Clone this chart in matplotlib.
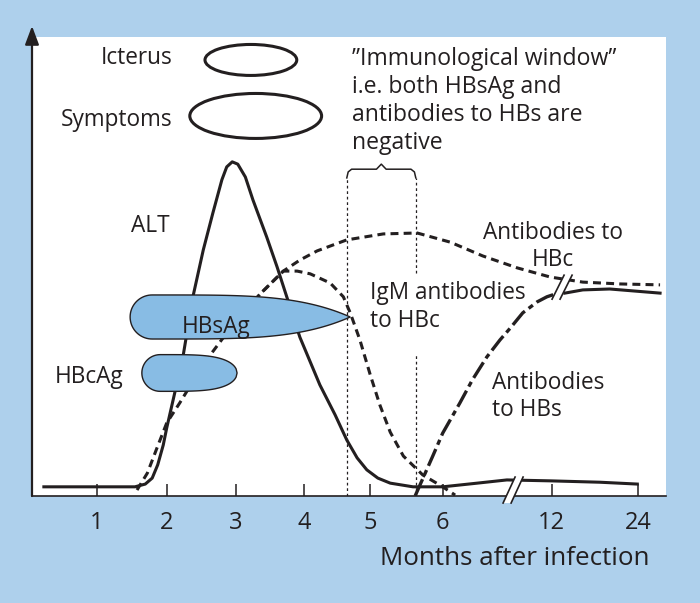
import matplotlib
matplotlib.use("Agg")
import matplotlib.pyplot as plt
import numpy as np
from matplotlib.patches import Ellipse, Polygon

plt.rcParams['font.family'] = ['Open Sans', 'DejaVu Sans']

# colours
BG = '#aed0ec'
FILL = '#88bce4'
INK = '#231f20'

# x is the position on the broken month axis, y is an arbitrary level 0..100
tick_pos = [1, 2.01, 3.01, 4.0, 4.96, 6.01, 7.59, 8.84]
tick_labels = ['1', '2', '3', '4', '5', '6', '12', '24']

# ALT (solid)
alt_x = [0.23, 1.55, 1.70, 1.80, 1.88, 1.96, 2.01, 2.13, 2.25, 2.39, 2.54, 2.68,
         2.81, 2.88, 2.96, 3.04, 3.15, 3.26, 3.46, 3.61, 3.75, 3.94, 4.23, 4.45,
         4.62, 4.77, 4.91, 5.07, 5.25, 5.58, 6.01, 6.51, 6.94, 7.57, 8.29, 8.83]
alt_y = [2.0, 2.0, 2.6, 3.9, 6.8, 11.1, 14.8, 22.7, 30.7, 43.4, 53.6, 61.7,
         68.9, 71.7, 72.8, 72.3, 69.5, 64.5, 56.4, 49.9, 43.4, 34.6, 24.2, 17.7,
         12.2, 8.3, 5.7, 3.9, 2.8, 2.0, 2.0, 2.8, 3.5, 3.3, 3.0, 2.6]

# common rise of the antibodies to HBc
rise_x = [1.58, 1.73, 1.87, 2.01, 2.20, 2.42, 2.64, 2.86, 3.15, 3.39, 3.70]
rise_y = [1.3, 5.0, 10.5, 15.9, 20.3, 25.7, 30.7, 35.1, 40.5, 44.4, 49.0]

# total antibodies to HBc (dashed)
hbc_x = [3.94, 4.19, 4.62, 5.15, 5.64, 6.12, 6.59, 7.09, 7.57, 8.04, 8.58, 9.16]
hbc_y = [51.4, 53.4, 55.8, 57.1, 57.3, 55.3, 52.3, 49.7, 47.7, 46.6, 46.2, 46.0]

# IgM antibodies to HBc (dashed)
igm_x = [3.90, 4.09, 4.38, 4.57, 4.67, 4.81, 4.96, 5.10, 5.25, 5.44, 5.72, 6.01, 6.19]
igm_y = [49.0, 48.4, 46.4, 43.4, 39.9, 34.0, 26.4, 19.8, 13.9, 8.7, 4.6, 2.0, 0.2]

# antibodies to HBs (dash-dot before the break, solid after)
hbs_x = [5.61, 5.86, 6.01, 6.26, 6.44, 6.65, 6.84, 6.99, 7.17, 7.38, 7.52, 7.64]
hbs_y = [0.0, 8.5, 13.7, 20.3, 25.3, 30.3, 34.0, 36.6, 39.9, 42.3, 43.4, 44.0]
hbs_late_x = [7.78, 8.04, 8.43, 9.16]
hbs_late_y = [44.2, 44.9, 45.1, 44.2]

# HBsAg / HBcAg bars: start, end, centre level, half height
hbsag = (1.48, 4.67, 39.0, 4.8)
hbcag = (1.65, 3.03, 26.8, 4.0)

# Icterus / Symptoms ellipses: centre x, centre y, width, height
icterus = (3.23, 95.0, 1.33, 6.75)
symptoms = (3.30, 82.8, 1.91, 9.8)

# immunological window
window = (4.62, 5.62)

XU, YU = 69.0, 4.59  # pixels per data unit, for shapes and break marks


def blob(x0, x1, yc, hh, k, rounded):
    rx = hh * YU / XU
    th = np.linspace(np.pi / 2, 3 * np.pi / 2, 40)
    cx = x0 + rx + rx * np.cos(th)
    cy = yc + hh * np.sin(th)
    t = np.linspace(0, 1, 80)
    xs = x0 + rx + t * (x1 - x0 - rx)
    off = np.sqrt(1 - t ** k) if rounded else 1 - t ** k
    bx, by = xs, yc - hh * off
    tx, ty = xs[::-1], yc + hh * off[::-1]
    return np.column_stack([np.r_[cx, bx, tx], np.r_[cy, by, ty]])


def draw_break(ax, xc, yc, half_h=13, slant=6, gap=4):
    hy = half_h / YU
    sx = slant / XU
    gx = gap / XU
    a = (xc - gx - sx, yc - hy)
    b = (xc - gx + sx, yc + hy)
    c = (xc + gx + sx, yc + hy)
    d = (xc + gx - sx, yc - hy)
    ax.add_patch(Polygon([a, b, c, d], closed=True, facecolor='white',
                         edgecolor='none', zorder=5, clip_on=False))
    ax.plot([a[0], b[0]], [a[1], b[1]], color=INK, lw=1.2, zorder=6, clip_on=False)
    ax.plot([d[0], c[0]], [d[1], c[1]], color=INK, lw=1.2, zorder=6, clip_on=False)


fig = plt.figure(figsize=(7, 6.03), dpi=100, facecolor=BG)
ax = fig.add_axes([32 / 700, (603 - 496) / 603, 634 / 700, 459 / 603])
ax.set_facecolor('white')
ax.set_xlim(0.058, 9.246)
ax.set_ylim(0, 100)

dash = (0, (2.6, 1.7))
ax.plot(alt_x, alt_y, color=INK, lw=2.2, zorder=2, solid_joinstyle='round')
ax.plot(rise_x + hbc_x, rise_y + hbc_y, color=INK, lw=2.2, ls=dash, zorder=2)
ax.plot(rise_x[-3:] + igm_x, rise_y[-3:] + igm_y, color=INK, lw=2.2, ls=dash, zorder=2)
ax.plot(hbs_x, hbs_y, color=INK, lw=2.4, ls=(0, (5.5, 1.4, 1.6, 1.4)), zorder=2)
ax.plot(hbs_late_x, hbs_late_y, color=INK, lw=2.2, zorder=2, solid_joinstyle='round')

for x0, x1, yc, hh in [hbsag]:
    ax.add_patch(Polygon(blob(x0, x1, yc, hh, 4, False), closed=True,
                         facecolor=FILL, edgecolor=INK, lw=1.0, zorder=3))
for x0, x1, yc, hh in [hbcag]:
    ax.add_patch(Polygon(blob(x0, x1, yc, hh, 4, True), closed=True,
                         facecolor=FILL, edgecolor=INK, lw=1.0, zorder=3))

for cx, cy, w, h in [icterus, symptoms]:
    ax.add_patch(Ellipse((cx, cy), w, h, facecolor='none', edgecolor=INK, lw=2.2, zorder=3))

# immunological window: dotted lines and brace
top = 69.3
dots = (0, (2.2, 2.2))
ax.plot([window[0], window[0]], [0, top], color=INK, lw=0.9, ls=dots, zorder=4)
ax.plot([window[1], window[1]], [0, 30.7], color=INK, lw=0.9, ls=dots, zorder=4)
ax.plot([window[1], window[1]], [48.6, top], color=INK, lw=0.9, ls=dots, zorder=4)
mid = (window[0] + window[1]) / 2
w = window[1] - window[0]
brace_x = [window[0], window[0] + 0.02 * w, window[0] + 0.07 * w, mid - 0.07 * w, mid,
           mid + 0.07 * w, window[1] - 0.07 * w, window[1] - 0.02 * w, window[1]]
brace_y = [top, top + 1.3, top + 1.9, top + 1.9, top + 3.0, top + 1.9, top + 1.9, top + 1.3, top]
ax.plot(brace_x, brace_y, color=INK, lw=1.1, zorder=4)

# break marks
draw_break(ax, 7.03, 1.3)
draw_break(ax, 7.74, 45.5, half_h=12)

# axes
for s in ['top', 'right', 'left']:
    ax.spines[s].set_visible(False)
ax.spines['bottom'].set_color(INK)
ax.spines['bottom'].set_linewidth(1.2)
ax.annotate('', xy=(0, 1.024), xytext=(0, 0), xycoords='axes fraction',
            arrowprops=dict(arrowstyle='-|>,head_length=0.8,head_width=0.3',
                            mutation_scale=14, lw=1.6, color=INK, shrinkA=0, shrinkB=0),
            annotation_clip=False)
ax.set_yticks([])
ax.set_xticks(tick_pos)
ax.set_xticklabels(tick_labels)
ax.tick_params(axis='x', direction='in', length=9, width=1.1, color=INK,
               labelsize=17, labelcolor=INK, pad=11)

fs = 16.3
kw = dict(color=INK, fontsize=fs, zorder=7)
ax.text(2.10, 95.4, 'Icterus', ha='right', va='center', **kw)
ax.text(2.09, 82.0, 'Symptoms', ha='right', va='center', **kw)
ax.text(1.77, 58.9, 'ALT', ha='center', va='center', **kw)
ax.text(2.72, 36.9, 'HBsAg', ha='center', va='center', **kw)
ax.text(0.88, 25.9, 'HBcAg', ha='center', va='center', **kw)
ax.text(4.70, 86.0, '\u201dImmunological window\u201d\ni.e. both HBsAg and\nantibodies to HBs are\nnegative',
        ha='left', va='center', linespacing=1.23, color=INK, fontsize=16.6, zorder=7)
ax.text(7.61, 54.4, 'Antibodies to\nHBc', ha='center', va='center', linespacing=1.2, **kw)
ax.text(4.96, 41.2, 'IgM antibodies\nto HBc', ha='left', va='center', linespacing=1.2, **kw)
ax.text(6.73, 21.7, 'Antibodies\nto HBs', ha='left', va='center', linespacing=1.2, **kw)
ax.text(9.01, -13.7, 'Months after infection', ha='right', va='center', clip_on=False,
        color=INK, fontsize=18.7)

fig.savefig('out.png', dpi=100, facecolor=BG)
